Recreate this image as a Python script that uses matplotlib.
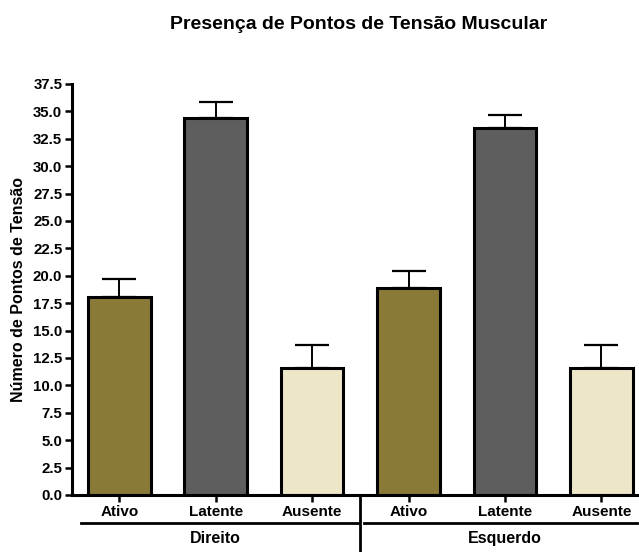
import matplotlib
matplotlib.use("Agg")
import matplotlib.pyplot as plt
import numpy as np

plt.rcParams['font.family'] = ['Liberation Sans', 'DejaVu Sans']
plt.rcParams['font.weight'] = 'bold'

categories = ["Ativo", "Latente", "Ausente"]
groups = ["Direito", "Esquerdo"]
direito_means = [18.07, 34.4, 11.6]
direito_sem = [1.65, 1.46, 2.1]
esquerdo_means = [18.9, 33.5, 11.6]
esquerdo_sem = [1.5, 1.18, 2.1]
yticks = [0.0, 2.5, 5.0, 7.5, 10.0, 12.5, 15.0, 17.5, 20.0, 22.5, 25.0, 27.5, 30.0, 32.5, 35.0, 37.5]

colors = ["#8a7a38", "#5e5e5e", "#ede6c9"]

means = direito_means + esquerdo_means
sems = direito_sem + esquerdo_sem
labels = categories * 2
bar_colors = colors * 2
x = np.arange(len(means))

fig = plt.figure(figsize=(6.39, 5.52), dpi=100)
ax = fig.add_axes([0.1127, 0.1033, 0.8858, 0.7446])

ax.bar(x, means, width=0.65, color=bar_colors, edgecolor="black", linewidth=2.2, zorder=2)
ax.errorbar(x, means, yerr=[np.zeros(len(sems)), sems], fmt="none", ecolor="black",
            elinewidth=1.4, capsize=12, capthick=1.6, zorder=1)

ax.set_xlim(-0.49, 5.38)
ax.set_ylim(0, 37.5)
ax.set_yticks(yticks)
ax.set_yticklabels([f"{v:.1f}" for v in yticks])
ax.set_xticks(x)
ax.set_xticklabels(labels)

for s in ["top", "right"]:
    ax.spines[s].set_visible(False)
for s in ["left", "bottom"]:
    ax.spines[s].set_linewidth(2.2)

ax.tick_params(axis="y", direction="out", length=5, width=1.8, pad=2, labelsize=10.8)
ax.tick_params(axis="x", direction="out", length=5, width=1.8, pad=2.5, labelsize=11)
for t in ax.get_xticklabels() + ax.get_yticklabels():
    t.set_fontweight("bold")

ax.set_ylabel("Número de Pontos de Tensão", fontsize=11.5, fontweight="bold", labelpad=5)
fig.suptitle("Presença de Pontos de Tensão Muscular", fontsize=14, fontweight="bold",
             x=0.562, y=0.971)

# group brackets below the category labels
tr = ax.get_xaxis_transform()
ax.plot([-0.394, 2.49], [-0.068, -0.068], color="black", lw=2, transform=tr, clip_on=False)
ax.plot([2.54, 5.37], [-0.068, -0.068], color="black", lw=2, transform=tr, clip_on=False)
ax.plot([2.5, 2.5], [0, -0.14], color="black", lw=2, transform=tr, clip_on=False)
ax.text(1.0, -0.105, groups[0], transform=tr, ha="center", va="center",
        fontsize=11.5, fontweight="bold")
ax.text(4.0, -0.105, groups[1], transform=tr, ha="center", va="center",
        fontsize=11.5, fontweight="bold")

fig.savefig("out.png", dpi=100)
